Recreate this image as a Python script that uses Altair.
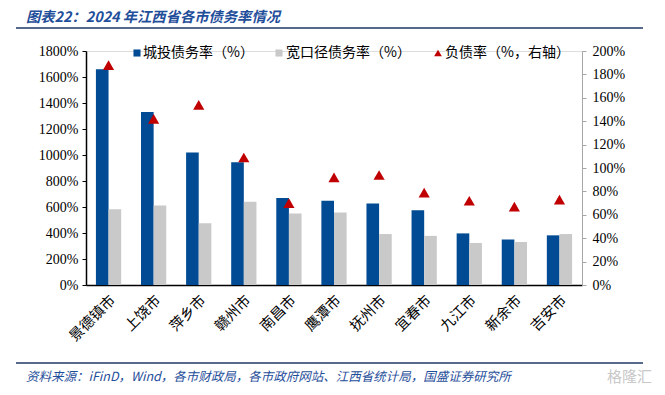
import altair as alt
import pandas as pd

cities = ["景德镇市", "上饶市", "萍乡市", "赣州市", "南昌市", "鹰潭市", "抚州市", "宜春市", "九江市", "新余市", "吉安市"]
chengtou = [1660, 1330, 1020, 945, 670, 648, 627, 575, 397, 350, 382]
kuankou = [582, 612, 475, 640, 550, 558, 392, 378, 323, 331, 392]
fuzhai = [188, 142, 154, 109, 70, 92, 94, 79, 72, 67, 73]

series_names = ["城投债务率（%）", "宽口径债务率（%）", "负债率（%，右轴）"]
series_colors = ["#004B93", "#C9C9C9", "#C00000"]
title_text = "图表22：2024 年江西省各市债务率情况"
source_text = "资料来源：iFinD，Wind，各市财政局，各市政府网站、江西省统计局，国盛证券研究所"
watermark_text = "格隆汇"
left_ticks = list(range(0, 1801, 200))
right_ticks = list(range(0, 201, 20))

CJK = "Noto Sans CJK SC"
SERIF = "Liberation Serif"

bars_df = pd.DataFrame(
    [{"city": c, "series": series_names[0], "value": v} for c, v in zip(cities, chengtou)]
    + [{"city": c, "series": series_names[1], "value": v} for c, v in zip(cities, kuankou)]
)
pts_df = pd.DataFrame({"city": cities, "value": fuzhai})

x_enc = alt.X(
    "city:N",
    sort=cities,
    scale=alt.Scale(paddingInner=0.44, paddingOuter=0.22),
    axis=alt.Axis(
        title=None, labelAngle=-45, labelFont=CJK, labelFontSize=14.5, labelColor="#000000",
        ticks=False, domainColor="#000000", domainWidth=1.5, labelPadding=8,
    ),
)

bars = alt.Chart(bars_df).mark_bar().encode(
    x=x_enc,
    xOffset=alt.XOffset("series:N", sort=series_names[:2], scale=alt.Scale(paddingInner=0)),
    y=alt.Y(
        "value:Q",
        scale=alt.Scale(domain=[0, 1800], nice=False),
        axis=alt.Axis(
            title=None, values=left_ticks, labelExpr="datum.value + '%'", grid=False,
            labelFont=SERIF, labelFontSize=14, labelColor="#000000", domainColor="#000000",
            domainWidth=1.5, tickColor="#000000", tickSize=4, labelPadding=4,
        ),
    ),
    color=alt.Color("series:N", scale=alt.Scale(domain=series_names[:2], range=series_colors[:2]), legend=None),
)

points = alt.Chart(pts_df).mark_point(shape="triangle-up", filled=True, size=125, opacity=1, color=series_colors[2]).encode(
    x=alt.X("city:N", sort=cities),
    y=alt.Y(
        "value:Q",
        scale=alt.Scale(domain=[0, 200], nice=False),
        axis=alt.Axis(
            title=None, orient="right", values=right_ticks, labelExpr="datum.value + '%'", grid=False,
            labelFont=SERIF, labelFontSize=14, labelColor="#000000", domainColor="#A6A6A6",
            tickColor="#A6A6A6", tickSize=4, labelPadding=6,
        ),
    ),
)


def text_layer(txt, x, y, **kw):
    return alt.Chart(pd.DataFrame({"t": [txt]})).mark_text(**kw).encode(
        x=alt.value(x), y=alt.value(y), text="t:N"
    )


def sym_layer(x, y, shape, color, size):
    return alt.Chart(pd.DataFrame({"a": [0]})).mark_point(
        shape=shape, filled=True, opacity=1, color=color, size=size
    ).encode(x=alt.value(x), y=alt.value(y))


title = text_layer(title_text, -60, -33, align="left", baseline="middle", font=CJK, fontSize=14.3,
                   fontWeight="bold", fontStyle="italic", color="#1F4E9A")
source = text_layer(source_text, -60, 326, align="left", baseline="middle", font=CJK, fontSize=12.5,
                    fontStyle="italic", color="#1F4E9A")
watermark = text_layer(watermark_text, 566, 326, align="right", baseline="middle", font=CJK, fontSize=15,
                       color="#C8C8C8")
top_line = alt.Chart(pd.DataFrame({"a": [0]})).mark_rule(color="#1F3864", strokeWidth=1.5).encode(
    x=alt.value(-70), x2=alt.value(557), y=alt.value(-23)
)
bottom_line = alt.Chart(pd.DataFrame({"a": [0]})).mark_rule(color="#1F3864", strokeWidth=1.5).encode(
    x=alt.value(-70), x2=alt.value(557), y=alt.value(312)
)

leg_y = 2
leg = [
    sym_layer(51, leg_y, "square", series_colors[0], 50),
    text_layer(series_names[0], 57, leg_y, align="left", baseline="middle", font=CJK, fontSize=14, color="#000000"),
    sym_layer(193, leg_y, "square", series_colors[1], 50),
    text_layer(series_names[1], 200, leg_y, align="left", baseline="middle", font=CJK, fontSize=14, color="#000000"),
    sym_layer(352, leg_y, "triangle-up", series_colors[2], 60),
    text_layer(series_names[2], 359, leg_y, align="left", baseline="middle", font=CJK, fontSize=14, color="#000000"),
]

chart = alt.layer(bars, points, title, source, watermark, top_line, bottom_line, *leg).resolve_scale(
    y="independent"
).properties(
    width=496,
    height=234,
    autosize=alt.AutoSizeParams(type="none"),
    padding={"left": 78, "top": 43, "right": 75, "bottom": 102},
).configure_view(stroke=None).configure(background="#FFFFFF")

chart.save("out.html", embed_options={"renderer": "svg", "actions": False})
